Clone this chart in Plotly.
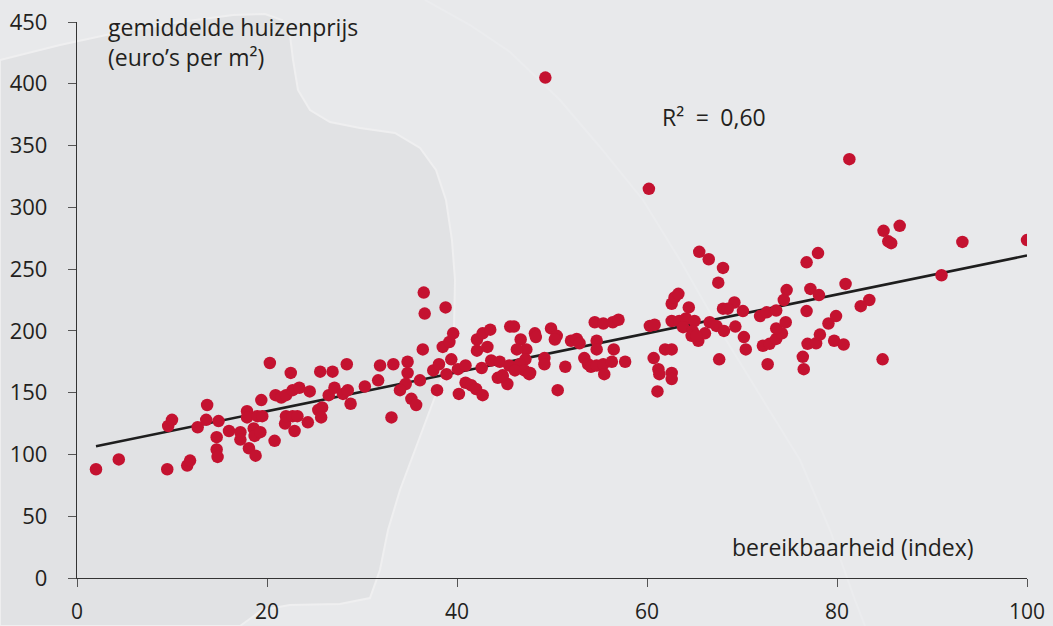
import plotly.graph_objects as go

# ---- data ----
bereikbaarheid = [
    2.0, 4.4, 9.5, 9.6, 10.0, 11.6, 11.9, 12.7, 13.7, 13.6, 14.9, 14.7, 14.7, 14.8, 16.0, 17.2, 17.2, 17.9, 17.9, 18.1,
    18.8, 19.4, 18.6, 18.7, 19.3, 19.0, 19.5, 20.3, 20.8, 20.9, 21.5, 22.0, 22.5, 22.7, 23.4, 21.9, 22.0, 22.7, 23.2, 22.9,
    24.5, 24.3, 25.6, 26.9, 25.4, 25.8, 25.7, 26.5, 27.1, 28.4, 28.0, 28.5, 28.8, 30.3, 31.7, 31.9, 33.3, 33.1, 34.8, 34.8,
    34.6, 34.0, 36.1, 35.2, 35.7, 36.5, 36.6, 38.8, 36.4, 37.9, 37.5, 38.1, 38.9, 38.5, 39.2, 39.6, 39.4, 40.1, 40.9, 40.2,
    40.9, 41.5, 42.0, 42.7, 42.1, 42.7, 43.5, 42.1, 43.2, 42.6, 43.6, 44.5, 44.3, 44.8, 45.3, 45.6, 46.0, 46.7, 47.3, 46.3,
    47.2, 45.5, 46.6, 47.7, 47.1, 46.1, 44.8, 47.6, 48.2, 48.3, 49.9, 50.5, 50.3, 49.2, 49.2, 50.6, 51.4, 52.0, 52.6, 52.9,
    53.4, 53.8, 54.1, 54.7, 55.4, 55.5, 56.3, 54.7, 54.7, 54.5, 55.4, 56.4, 57.0, 56.5, 57.7, 60.3, 60.8, 60.7, 61.2, 61.3,
    61.1, 61.9, 62.6, 62.6, 62.6, 62.6, 62.9, 63.3, 62.6, 63.4, 64.1, 63.8, 65.0, 64.8, 64.7, 65.4, 66.1, 65.2, 64.4, 65.5,
    66.5, 68.0, 67.5, 66.6, 67.3, 68.1, 68.0, 69.2, 68.5, 70.1, 69.3, 70.2, 70.4, 67.6, 71.9, 72.6, 73.6, 74.7, 74.4, 72.2,
    72.9, 73.6, 74.2, 73.6, 74.6, 72.7, 76.8, 78.0, 77.2, 78.1, 76.8, 79.1, 79.9, 79.7, 76.9, 77.8, 78.2, 76.4, 76.5, 80.7,
    80.9, 83.4, 82.5, 84.8, 81.3, 84.9, 86.6, 85.4, 85.7, 91.0, 93.2, 100.0, 60.2, 49.3,
]
huizenprijs = [
    88, 96, 88, 123, 128, 91, 95, 122, 140, 128, 127, 114, 104, 98, 119, 118, 112, 135, 130, 105,
    99, 144, 121, 115, 118, 131, 131, 174, 111, 148, 146, 148, 166, 152, 154, 125, 131, 131, 131, 119,
    151, 126, 167, 167, 136, 138, 130, 148, 154, 173, 149, 152, 141, 155, 160, 172, 173, 130, 175, 166,
    157, 152, 160, 145, 140, 231, 214, 219, 185, 152, 168, 173, 165, 187, 191, 198, 177, 169, 172, 149,
    158, 156, 153, 148, 193, 198, 201, 184, 187, 170, 176, 175, 162, 163, 157, 203.5, 203.5, 193, 185, 185,
    177, 172, 173, 166, 168, 168, 164, 165, 198, 195, 202, 196, 193, 178, 173, 152, 171, 192, 193.5, 190,
    178, 173, 171, 172, 173, 165, 175, 192, 185, 207, 206, 207, 209, 185, 175, 204, 205, 178, 169, 165,
    151, 185, 185, 166, 161, 222, 227, 230, 208, 208, 210, 203, 208, 200, 196, 192, 198, 196, 219, 264,
    258, 251, 239, 207, 204, 200, 218, 223, 218, 216, 203.5, 195, 185, 177, 212, 215, 216.5, 233, 225, 188,
    189.5, 193.5, 198, 202, 207, 173, 255.5, 263, 234, 229, 216, 206, 212, 192, 189.5, 190, 197, 179, 169, 189,
    238, 225, 220, 177, 339, 281, 285, 272.5, 271, 245, 272, 273.5, 315, 405,
]
trend_x = [2, 100]
trend_y = [106.6, 261.0]
x_ticks = [0, 20, 40, 60, 80, 100]
y_ticks = [0, 50, 100, 150, 200, 250, 300, 350, 400, 450]

# ---- layout geometry ----
W, H = 1053, 626
ML, MR, MT, MB = 77, 26, 22, 48
PW, PH = W - ML - MR, H - MT - MB


def pp(px, py):
    return (px - ML) / PW, (H - MB - py) / PH


def path_from(points, close=True):
    parts = []
    for i, (a, b) in enumerate(points):
        x, y = pp(a, b)
        parts.append(("M" if i == 0 else "L") + f"{x:.4f},{y:.4f}")
    return " ".join(parts) + (" Z" if close else "")


dark_region = [(0, 60), (60, 45), (120, 32), (180, 22), (233, 15), (265, 14), (282, 20), (290, 35),
               (293, 60), (298, 90), (310, 110), (330, 122), (360, 128), (395, 133), (420, 148),
               (436, 170), (446, 200), (452, 240), (455, 280), (454, 330), (445, 370), (430, 410),
               (415, 450), (400, 490), (388, 530), (380, 570), (370, 598), (340, 604), (290, 605),
               (262, 610), (240, 626), (0, 626)]
arc_line = [(425, 0), (470, 25), (510, 52), (560, 100), (600, 147), (643, 200), (680, 260),
            (720, 330), (760, 395), (800, 460), (830, 530), (855, 600), (865, 626)]

FONT = "Open Sans"
TXT = "#231f20"
RED = "#c41230"
ANN = 23

fig = go.Figure()
fig.add_trace(go.Scatter(x=trend_x, y=trend_y, mode="lines",
                         line=dict(color="#1e1e1e", width=2.6), hoverinfo="skip", showlegend=False))
fig.add_trace(go.Scatter(x=bereikbaarheid, y=huizenprijs, mode="markers",
                         marker=dict(color=RED, size=12.5, line=dict(width=0)), showlegend=False))

fig.update_layout(
    width=W, height=H,
    margin=dict(l=ML, r=MR, t=MT, b=MB, pad=0, autoexpand=False),
    paper_bgcolor="#e8e9eb",
    plot_bgcolor="rgba(0,0,0,0)",
    font=dict(family=FONT, size=22, color=TXT),
    shapes=[
        dict(type="path", xref="paper", yref="paper", path=path_from(dark_region),
             fillcolor="#e1e2e4", line=dict(color="#efeff0", width=2), layer="below"),
        dict(type="path", xref="paper", yref="paper", path=path_from(arc_line, close=False),
             line=dict(color="#ebecee", width=2), layer="below"),
    ],
    annotations=[
        dict(text="gemiddelde huizenprijs", xref="paper", yref="paper",
             x=pp(106, 0)[0], y=pp(0, 27)[1], xanchor="left", yanchor="middle",
             showarrow=False, font=dict(size=ANN, color=TXT)),
        dict(text="(euro’s per m²)", xref="paper", yref="paper",
             x=pp(106, 0)[0], y=pp(0, 57)[1], xanchor="left", yanchor="middle",
             showarrow=False, font=dict(size=ANN, color=TXT)),
        dict(text="R²\u2002=\u20020,60", xref="paper", yref="paper",
             x=pp(660, 0)[0], y=pp(0, 117)[1], xanchor="left", yanchor="middle",
             showarrow=False, font=dict(size=ANN, color=TXT)),
        dict(text="bereikbaarheid (index)", xref="paper", yref="paper",
             x=pp(730, 0)[0], y=pp(0, 547)[1], xanchor="left", yanchor="middle",
             showarrow=False, font=dict(size=ANN, color=TXT)),
    ],
)
fig.update_xaxes(range=[0, 100], tickvals=x_ticks, ticktext=[str(v) for v in x_ticks],
                 automargin=False,
                 showgrid=False, zeroline=False, showline=True, linecolor="#333333", linewidth=1.3,
                 ticks="outside", ticklen=8, tickwidth=1.2, tickcolor="#555555",
                 ticklabelstandoff=7, tickfont=dict(size=21, color=TXT))
fig.update_yaxes(range=[0, 450], tickvals=y_ticks, ticktext=[str(v) for v in y_ticks],
                 automargin=False,
                 showgrid=False, zeroline=False, showline=True, linecolor="#333333", linewidth=1.3,
                 ticks="outside", ticklen=8, tickwidth=1.2, tickcolor="#555555",
                 ticklabelstandoff=16, tickfont=dict(size=22, color=TXT))

fig.write_html("out.html", config={"displayModeBar": False},
               post_script="document.body.style.margin='0';document.body.style.overflow='hidden';")
